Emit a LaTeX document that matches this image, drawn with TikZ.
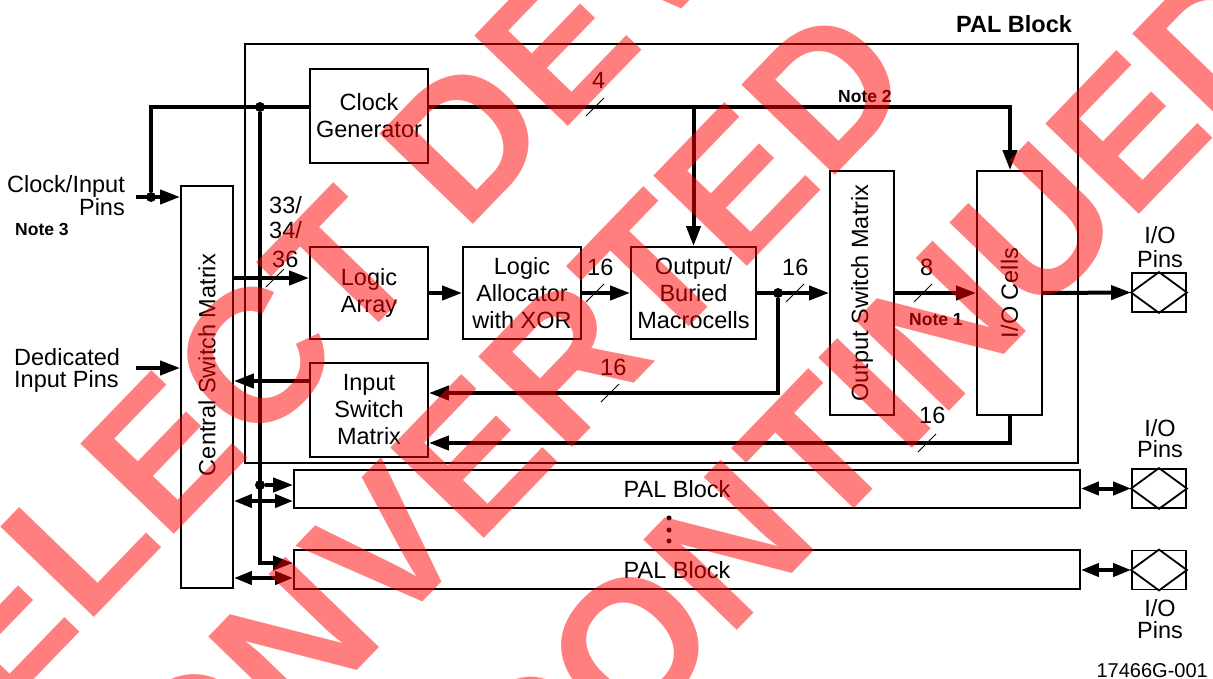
\documentclass[tikz,border=0pt]{standalone}
\usepackage{fontspec}
\setmainfont{Liberation Sans}
\usetikzlibrary{arrows.meta}
\begin{document}
\begin{tikzpicture}[x=1pt,y=-1pt,
  box/.style={draw,line width=1.8pt,inner sep=0pt,align=center,font=\fontsize{23.5}{27}\selectfont},
  txt/.style={inner sep=0pt,font=\fontsize{23.5}{27}\selectfont},
  note/.style={inner sep=0pt,font=\bfseries\fontsize{17.5}{20}\selectfont},
  bus/.style={line width=4pt},
  arr/.style={bus,-{Triangle[length=20pt,width=14pt]}},
  darr/.style={bus,{Triangle[length=18pt,width=13pt]}-{Triangle[length=18pt,width=13pt]}},
  tickmark/.style={line width=0.8pt},
  dot/.style={circle,fill,inner sep=0pt,minimum size=10pt},
  sdot/.style={circle,fill,inner sep=0pt,minimum size=5pt},
  wm/.style={text=red,text opacity=0.5,inner sep=0pt,rotate=46,font=\bfseries\fontsize{189}{189}\selectfont}
]
\useasboundingbox (0,0) rectangle (1213,678);
\fill[white] (0,0) rectangle (1213,678);
\clip (0,0) rectangle (1213,678);

% ---- boxes
\node[box,minimum width=833pt,minimum height=419pt] (pal) at (661.5,253.5) {};
\node[box,minimum width=118pt,minimum height=94pt] (cg) at (369,116) {Clock\\Generator};
\node[box,minimum width=118pt,minimum height=92pt] (la) at (369,293) {Logic\\Array};
\node[box,minimum width=118pt,minimum height=92pt] (lal) at (522,293) {Logic\\Allocator\\with XOR};
\node[box,minimum width=125pt,minimum height=92pt] (obm) at (693.5,293) {Output/\\Buried\\Macrocells};
\node[box,minimum width=118pt,minimum height=94pt] (ism) at (369,410) {Input\\Switch\\Matrix};
\node[box,minimum width=64pt,minimum height=244pt] (osm) at (862,293) {};
\node[txt,rotate=90] (osmt) at (862,293) {Output Switch Matrix};
\node[box,minimum width=65pt,minimum height=244pt] (ioc) at (1009.5,293) {};
\node[txt,rotate=90] (ioct) at (1009.5,293) {I/O Cells};
\node[box,minimum width=52pt,minimum height=402pt] (csm) at (207,387) {};
\node[txt,rotate=90] (csmt) at (207,365) {Central Switch Matrix};
\node[box,minimum width=786pt,minimum height=38pt] (pal2) at (687,489) {};
\node[txt] (pal2t) at (677,489) {PAL Block};
\node[box,minimum width=786pt,minimum height=39pt] (pal3) at (687,569.5) {};
\node[txt] (pal3t) at (677,570) {PAL Block};
\foreach \n/\y in {pin1/292.5,pin2/488.5,pin3/570}{
  \node[box,minimum width=54pt,minimum height=39pt] (\n) at (1159,\y) {};
  \draw[line width=1.8pt] (\n.west) -- (\n.north) -- (\n.east) -- (\n.south) -- cycle;
}

% ---- junction points
\node[dot] (j1) at (151,197) {};
\node[dot] (j2) at (260,107) {};
\node[dot] (j3) at (260,485) {};
\node[dot] (j4) at (778,293) {};
\coordinate (clkin) at (136,197);
\coordinate (dedin) at (136,368);
\coordinate (cl) at (151,107);
\coordinate (clr) at (1010,107);
\coordinate (vb) at (260,563);
\coordinate (rb) at (778,393);

% ---- connectors
\draw[arr] (clkin) -- (csm.west |- clkin);
\draw[bus] (j1) -- (cl) -- (cl -| cg.west);
\draw[arr] (cg.east |- cl) -- (clr) -- (clr |- ioc.north);
\draw[arr] (obm.north |- cl) -- (obm.north);
\draw[arr] (j2) -- (vb) -- (vb -| pal3.west);
\draw[arr] (j3) -- (j3 -| pal2.west);
\draw[arr] (csm.east |- 0,278) -- (la.west |- 0,278);
\draw[arr] (la.east) -- (lal.west);
\draw[arr] (lal.east) -- (obm.west);
\draw[arr] (obm.east) -- (osm.west);
\draw[arr] (j4) -- (rb) -- (rb -| ism.east);
\draw[arr] (osm.east) -- (ioc.west);
\draw[arr] (ioc.east) -- (pin1.west);
\draw[arr] (ioc.south) -- (ioc.south |- 0,443) -- (ism.east |- 0,443);
\draw[arr] (ism.west |- 0,381) -- (csm.east |- 0,381);
\draw[arr] (dedin) -- (csm.west |- dedin);
\draw[darr] (csm.east |- 0,501) -- (pal2.west |- 0,501);
\draw[darr] (csm.east |- 0,578) -- (pal3.west |- 0,578);
\draw[darr] (pal2.east |- pin2.west) -- (pin2.west);
\draw[darr] (pal3.east |- pin3.west) -- (pin3.west);

% ---- bus width ticks
\foreach \x/\y in {275/278,595/107,595/293,795/293,923/293,610/393,927/443}{
  \draw[tickmark] (\x-9,\y+9) -- (\x+9,\y-9);
}

% ---- ellipsis dots
\node[sdot] (e1) at (669,518) {};
\node[sdot] (e2) at (669,530) {};
\node[sdot] (e3) at (669,541) {};

% ---- labels
\node[txt,anchor=base west] at (269,213) {33/};
\node[txt,anchor=base west] at (269,238) {34/};
\node[txt,anchor=base west] at (272,267) {36};
\node[txt,anchor=base west] at (592,88) {4};
\node[txt,anchor=base west] at (587,275) {16};
\node[txt,anchor=base west] at (782,275) {16};
\node[txt,anchor=base west] at (920,275) {8};
\node[txt,anchor=base west] at (600,375) {16};
\node[txt,anchor=base west] at (919,423) {16};
\node[note,anchor=base west] at (838,102) {Note 2};
\node[note,anchor=base west] at (909,325) {Note 1};
\node[note,anchor=base west] at (15,235) {Note 3};
\node[txt,anchor=base west,font=\bfseries\fontsize{23.5}{27}\selectfont] at (956,32) {PAL Block};
\node[txt,anchor=base east] at (125,192) {Clock/Input};
\node[txt,anchor=base east] at (125,215) {Pins};
\node[txt,anchor=base west] at (14,365) {Dedicated};
\node[txt,anchor=base west] at (14,387) {Input Pins};
\node[txt,anchor=base] at (1160,243) {I/O};
\node[txt,anchor=base] at (1160,267) {Pins};
\node[txt,anchor=base] at (1160,436) {I/O};
\node[txt,anchor=base] at (1160,457) {Pins};
\node[txt,anchor=base] at (1160,616) {I/O};
\node[txt,anchor=base] at (1160,638) {Pins};
\node[inner sep=0pt,anchor=base east,font=\fontsize{20}{22}\selectfont] at (1208,677) {17466G-001};

% ---- watermark
\node[wm] (w1) at (429,177) {SELECT DEVICES};
\node[wm] (w2) at (462,468) {CONVERTED};
\node[wm] (w3) at (766,507) {DISCONTINUED};
\end{tikzpicture}
\end{document}
